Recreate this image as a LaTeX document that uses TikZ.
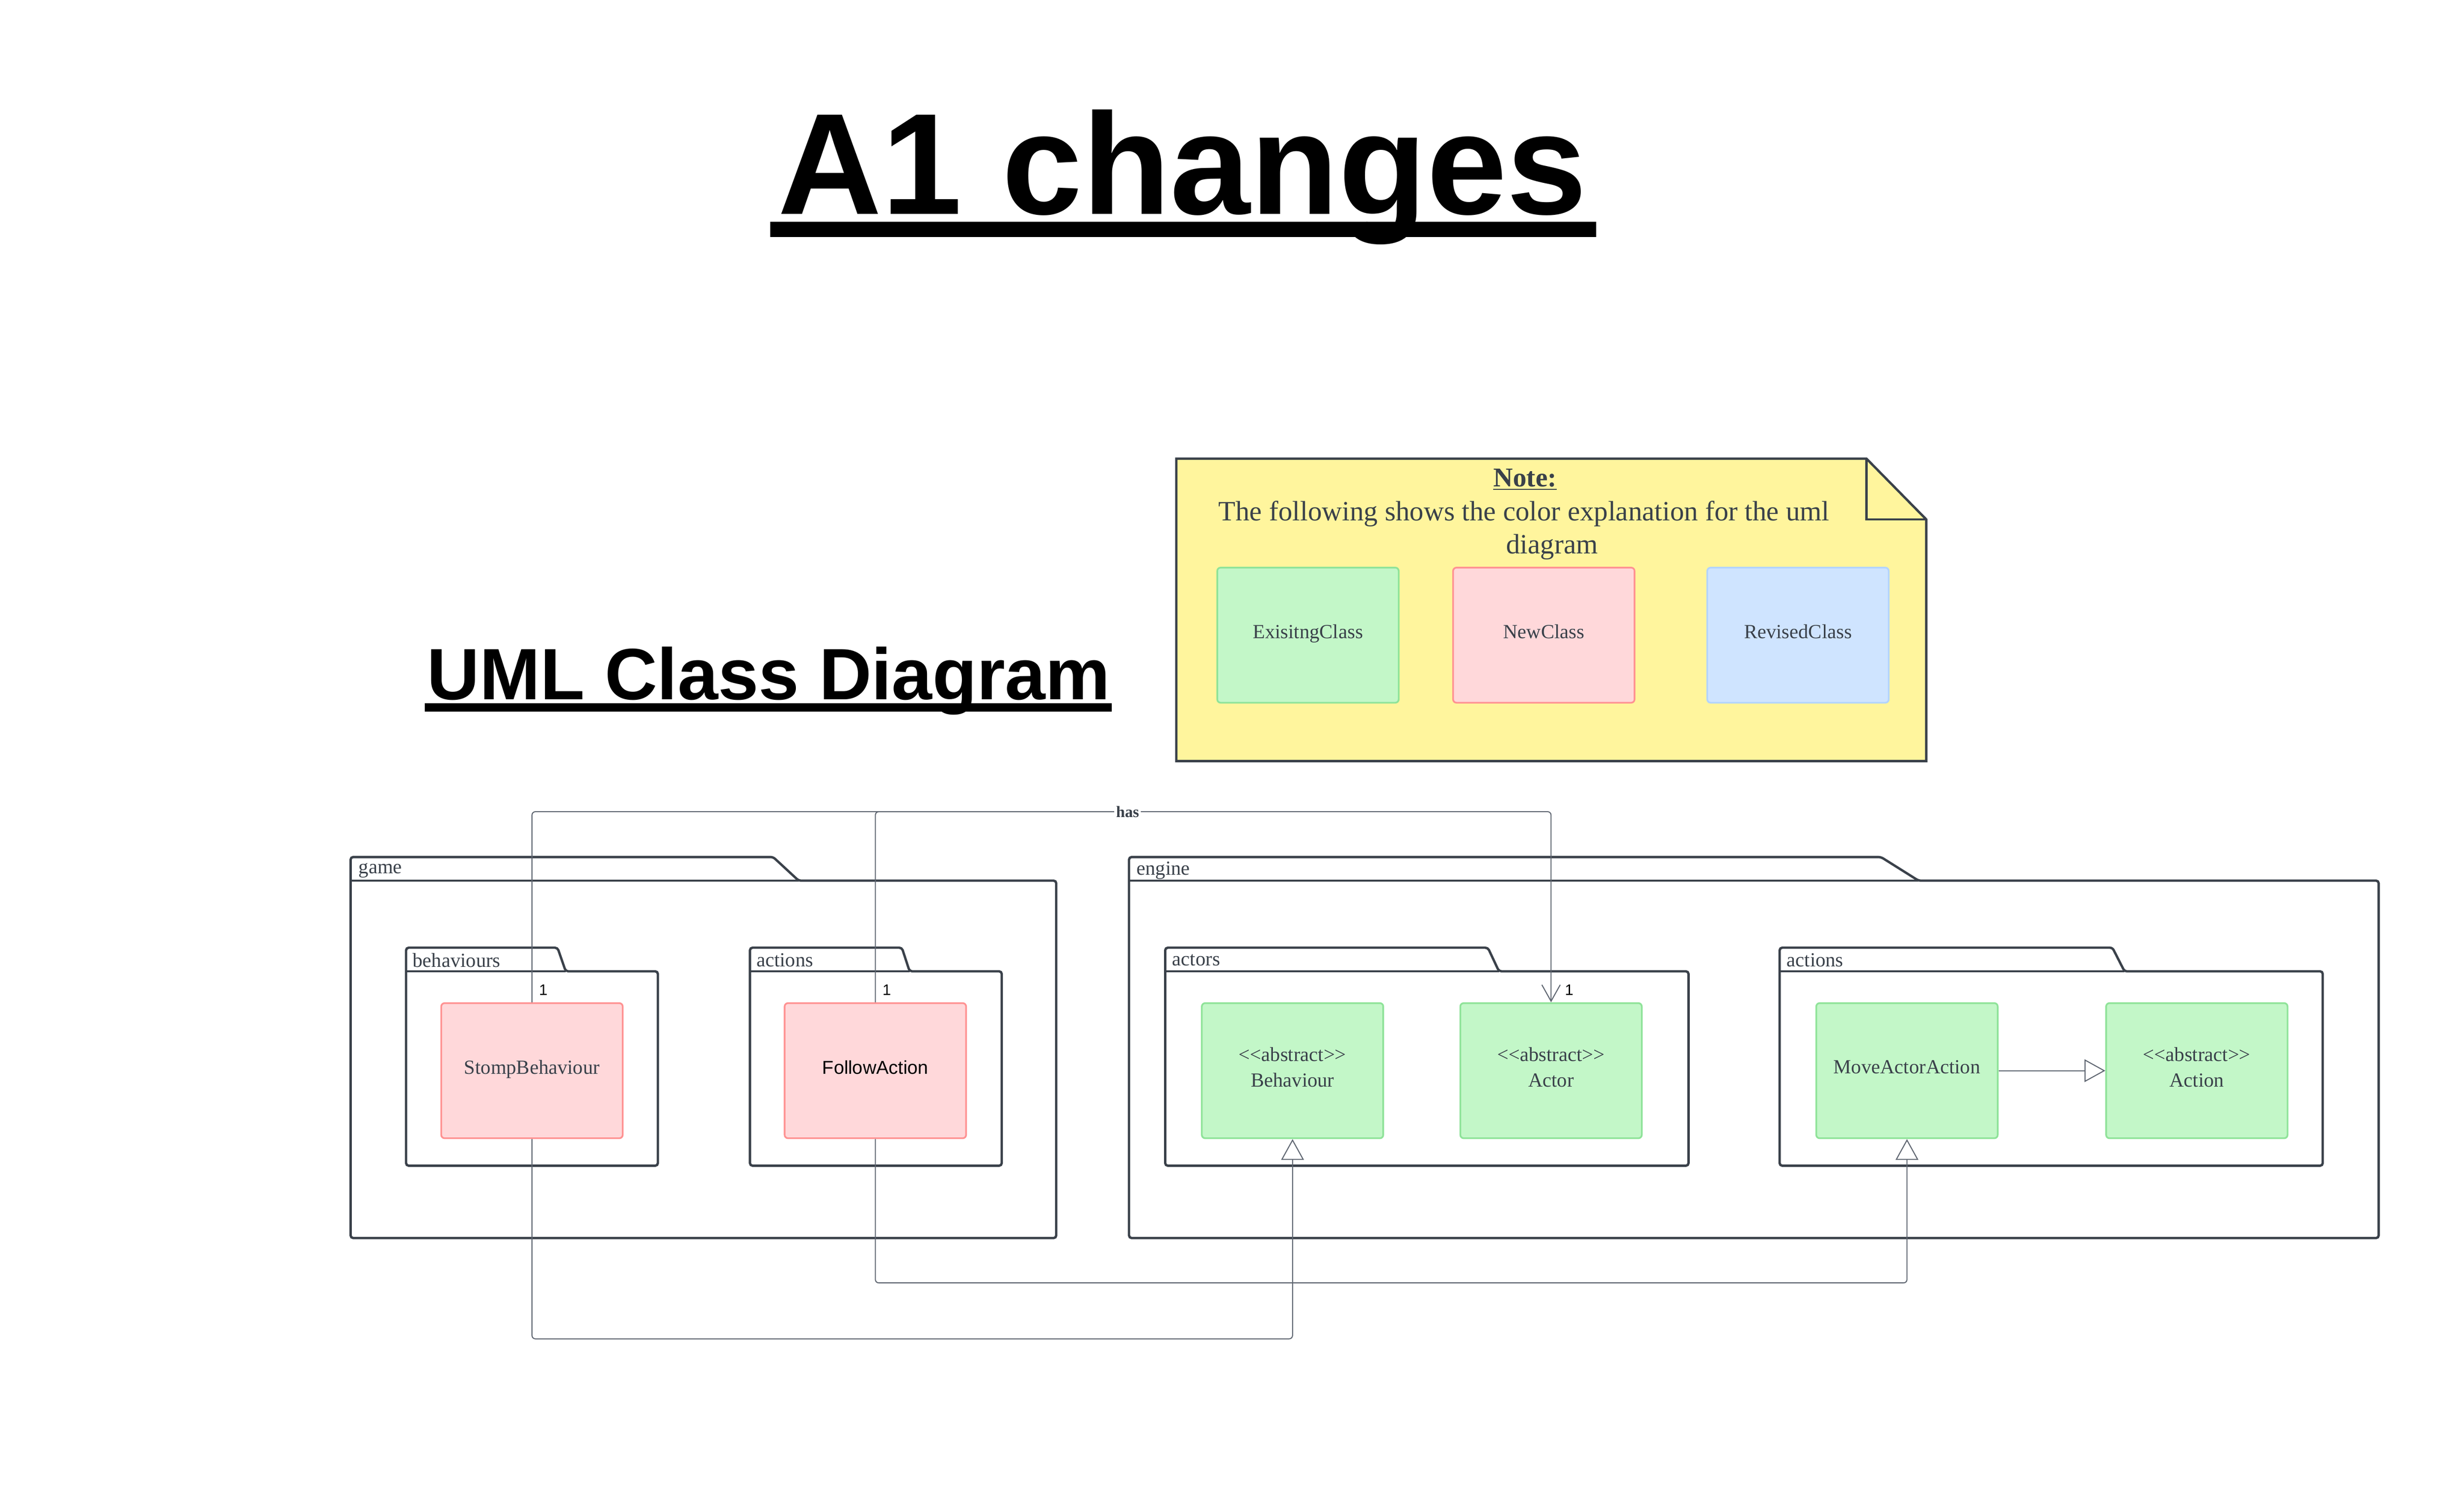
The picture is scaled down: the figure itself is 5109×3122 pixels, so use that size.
\documentclass[tikz,border=0pt]{standalone}
\usepackage{fontspec}
\setmainfont{Liberation Serif}
\newfontfamily\arialfnt{Liberation Sans}
\usetikzlibrary{arrows.meta,positioning}

\definecolor{ink}{HTML}{3A414A}
\definecolor{wire}{HTML}{5E6570}
\definecolor{notefill}{HTML}{FFF59D}
\definecolor{oldfill}{HTML}{C3F7C8}
\definecolor{oldline}{HTML}{8FE399}
\definecolor{newfill}{HTML}{FFD8DA}
\definecolor{newline}{HTML}{FF9292}
\definecolor{revfill}{HTML}{CFE4FF}
\definecolor{revline}{HTML}{B3D4FF}

\begin{document}
\begin{tikzpicture}[x=0.01cm,y=-0.01cm,
  pkg/.style={draw=ink, line width=1.4pt, rounded corners=1.5pt},
  pkgname/.style={anchor=west, inner sep=0pt, text=ink, font=\fontsize{11.8}{14}\selectfont},
  cls/.style={line width=1pt, rounded corners=2pt, minimum width=3.76cm, minimum height=2.8cm,
    text depth=0.15cm, align=center, text=ink, font=\fontsize{11.8}{15}\selectfont},
  oldcls/.style={cls, draw=oldline, fill=oldfill},
  newcls/.style={cls, draw=newline, fill=newfill},
  revcls/.style={cls, draw=revline, fill=revfill},
  conn/.style={draw=wire, line width=0.6pt, rounded corners=2pt},
  mult/.style={anchor=south west, inner sep=0pt, font=\arialfnt\fontsize{9}{10}\selectfont},
  inherit/.style={conn, -{Triangle[fill=white, length=0.43cm, width=0.47cm]}},
]
\useasboundingbox (0,0) rectangle (5109,3122);

% titles
\node[anchor=base, font=\arialfnt\bfseries\fontsize{85}{90}\selectfont] (title) at (2452,444) {A1 changes};
\fill (1597,460) rectangle (3310,492);
\node[anchor=base, font=\arialfnt\bfseries\fontsize{42.9}{48}\selectfont] (umltitle) at (1594,1450) {UML Class Diagram};
\fill (881,1458) rectangle (2305,1475);

% note with colour legend
\draw[draw=ink, fill=notefill, line width=1.4pt] (2439,951) -- (3870,951) -- (3994,1077) -- (3994,1578) -- (2439,1578) -- cycle;
\draw[draw=ink, line width=1.4pt] (3870,951) -- (3870,1077) -- (3994,1077);
\node[anchor=base, text=ink, font=\bfseries\fontsize{16}{19}\selectfont] (notehead) at (3162,1009) {\underline{Note:}};
\node[anchor=base, text=ink, font=\fontsize{16.5}{19}\selectfont] (noteline1) at (3160,1080) {The following shows the color explanation for the uml};
\node[anchor=base, text=ink, font=\fontsize{16.5}{19}\selectfont] (noteline2) at (3218,1148) {diagram};
\node[oldcls] (legold) at (2712,1317) {ExisitngClass};
\node[newcls] (legnew) at (3201,1317) {NewClass};
\node[revcls] (legrev) at (3728,1317) {RevisedClass};

% package game
\draw[pkg] (727,1826) -- (727,1777) -- (1603,1777) -- (1656,1826) -- (2190,1826) -- (2190,2567) -- (727,2567) -- cycle;
\draw[pkg] (727,1826) -- (1656,1826);
\node[pkgname] (gamename) at (743,1805) {game};

\draw[pkg] (842,2014) -- (842,1965) -- (1156,1965) -- (1173,2014) -- (1364,2014) -- (1364,2417) -- (842,2417) -- cycle;
\draw[pkg] (842,2014) -- (1173,2014);
\node[pkgname] (behavname) at (855,1991) {behaviours};

\draw[pkg] (1555,2014) -- (1555,1965) -- (1870,1965) -- (1886,2014) -- (2077,2014) -- (2077,2417) -- (1555,2417) -- cycle;
\draw[pkg] (1555,2014) -- (1886,2014);
\node[pkgname] (gactname) at (1568,1991) {actions};

% package engine
\draw[pkg] (2341,1826) -- (2341,1777) -- (3900,1777) -- (3978,1826) -- (4932,1826) -- (4932,2567) -- (2341,2567) -- cycle;
\draw[pkg] (2341,1826) -- (3978,1826);
\node[pkgname] (enginename) at (2356,1805) {engine};

\draw[pkg] (2416,2014) -- (2416,1965) -- (3085,1965) -- (3108,2014) -- (3501,2014) -- (3501,2417) -- (2416,2417) -- cycle;
\draw[pkg] (2416,2014) -- (3108,2014);
\node[pkgname] (actorsname) at (2430,1991) {actors};

\draw[pkg] (3690,2014) -- (3690,1965) -- (4380,1965) -- (4405,2014) -- (4816,2014) -- (4816,2417) -- (3690,2417) -- cycle;
\draw[pkg] (3690,2014) -- (4405,2014);
\node[pkgname] (eactname) at (3704,1991) {actions};

% classes
\node[newcls] (stomp) at (1103,2220) {StompBehaviour};
\node[newcls, text=black, font=\arialfnt\fontsize{11}{13}\selectfont] (follow) at (1815,2220) {FollowAction};
\node[oldcls] (behav) at (2680,2220) {<{}<abstract>{}>\\Behaviour};
\node[oldcls] (actor) at (3216,2220) {<{}<abstract>{}>\\Actor};
\node[oldcls] (move) at (3954,2220) {MoveActorAction};
\node[oldcls] (action) at (4555,2220) {<{}<abstract>{}>\\Action};

% connectors
\coordinate (hasrow) at (2338,1683);
\coordinate (lowA) at (2000,2776);
\coordinate (lowB) at (3000,2660);
\draw[conn, -{Straight Barb[length=0.34cm, width=0.38cm]}] (stomp.north) |- (hasrow) -| (actor.north);
\draw[conn] (follow.north) |- (hasrow);
\node[fill=white, inner sep=1pt, text=ink, font=\bfseries\fontsize{9.4}{10}\selectfont] (haslabel) at (hasrow) {has};
\draw[inherit] (stomp.south) |- (lowA) -| (behav.south);
\draw[inherit] (follow.south) |- (lowB) -| (move.south);
\draw[inherit] (move.east) -- (action.west);

\node[mult] (m1) at ([xshift=4pt, yshift=4pt]stomp.north) {1};
\node[mult] (m2) at ([xshift=4pt, yshift=4pt]follow.north) {1};
\node[mult] (m3) at ([xshift=8pt, yshift=4pt]actor.north) {1};
\end{tikzpicture}
\end{document}
